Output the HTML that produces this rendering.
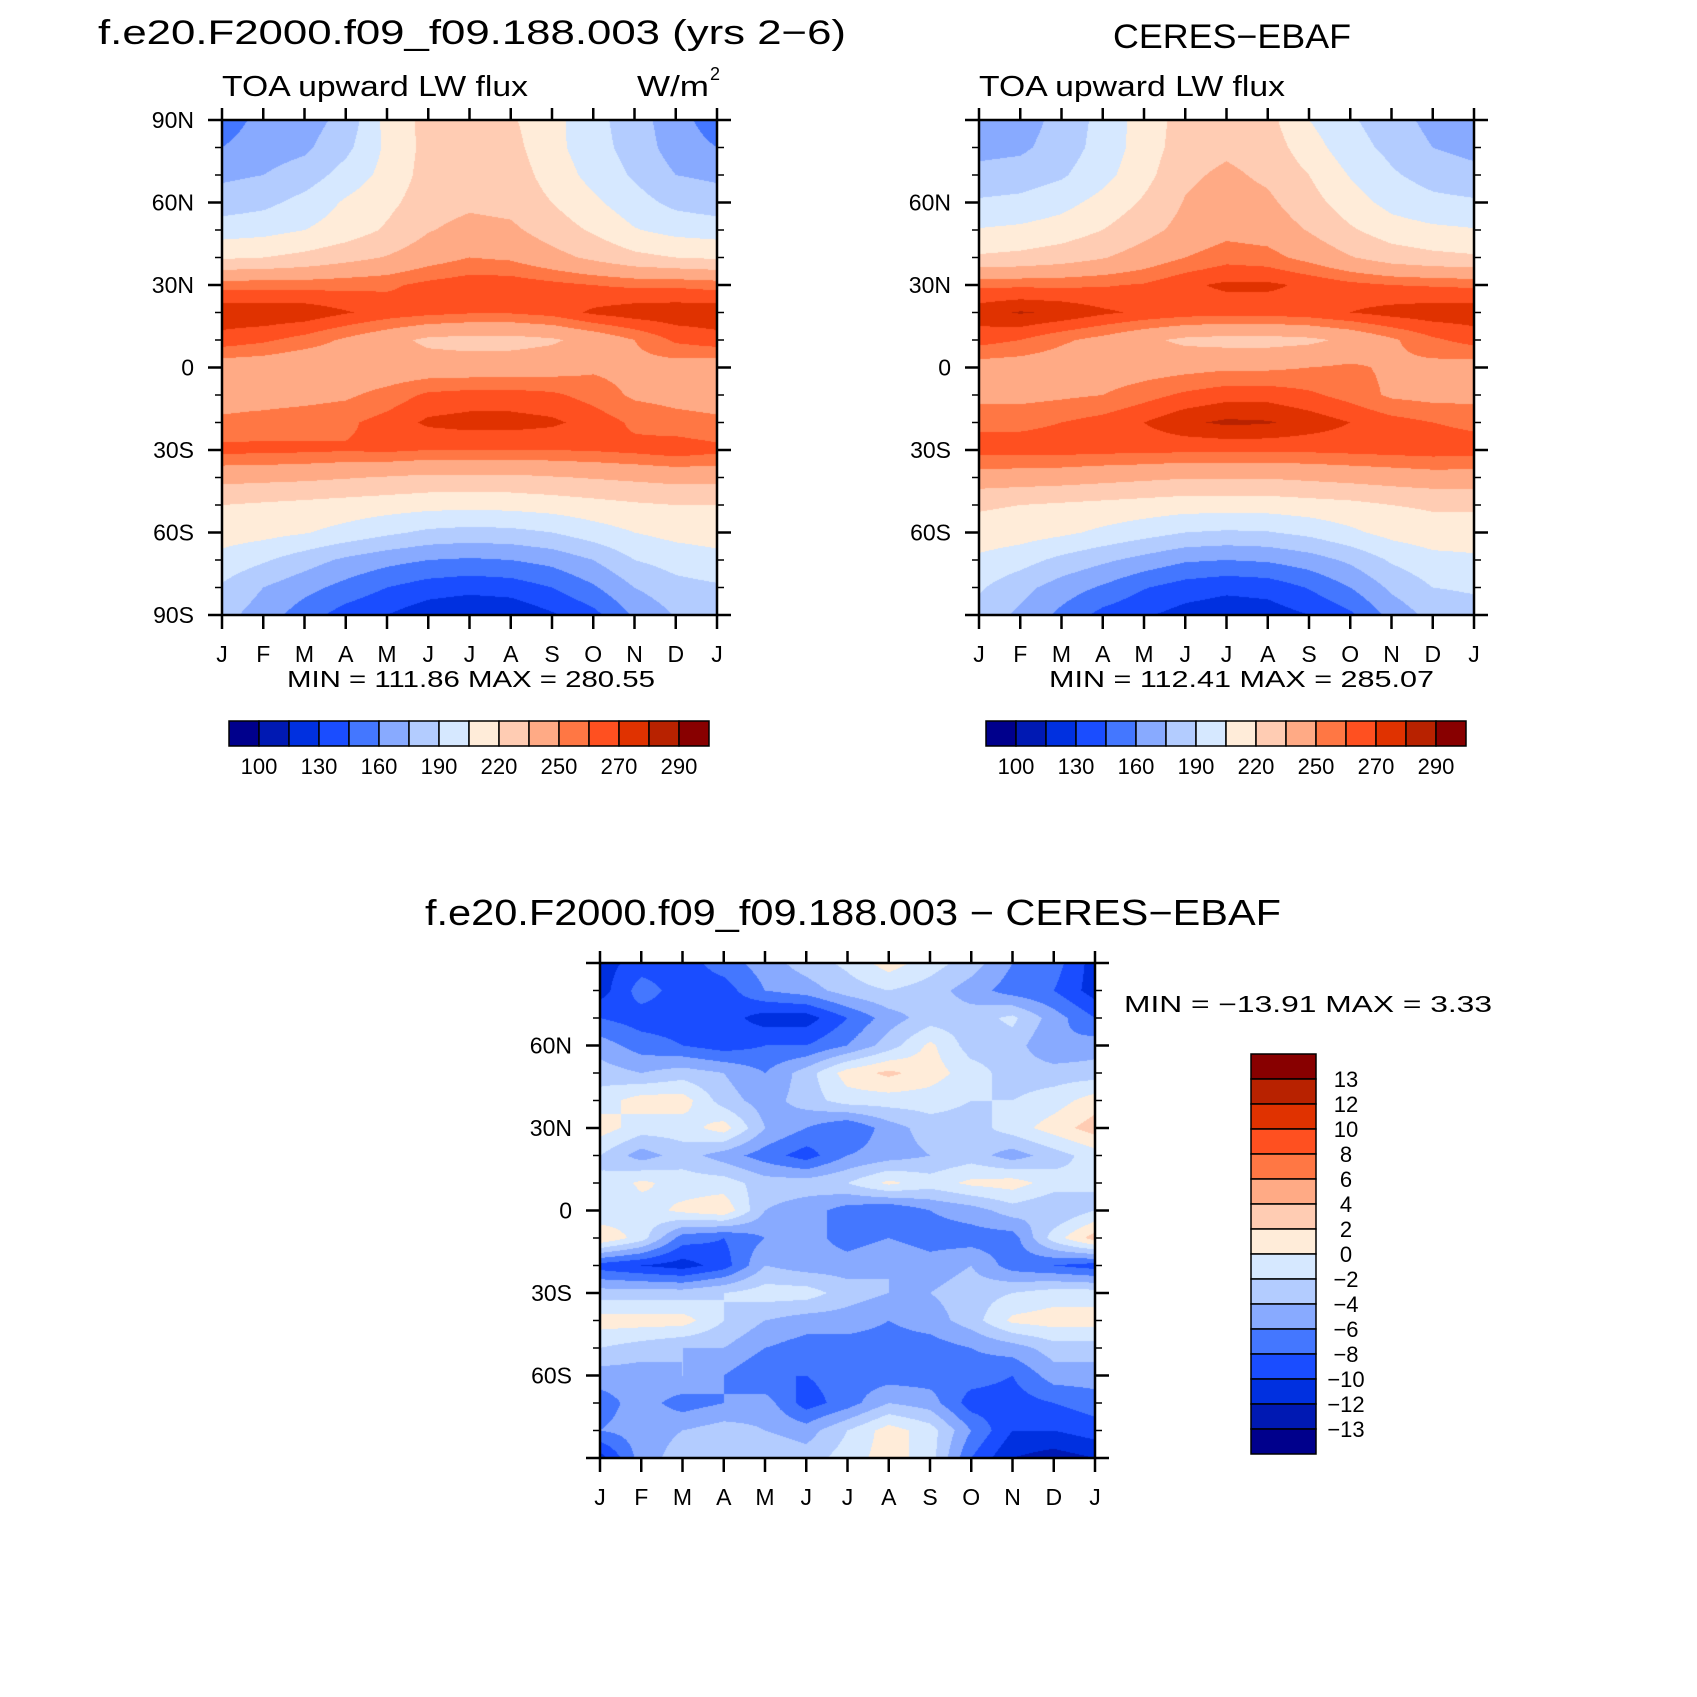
<!DOCTYPE html>
<html><head><meta charset="utf-8"><style>
html,body{margin:0;padding:0;background:#fff;}
#wrap{position:relative;width:1697px;height:1697px;overflow:hidden;}
canvas{position:absolute;}
svg{position:absolute;left:0;top:0;}
text{font-family:"Liberation Sans",sans-serif;fill:#000;}
</style></head><body>
<div id="wrap">
<canvas id="c1"></canvas>
<canvas id="c2"></canvas>
<canvas id="c3"></canvas>
<svg id="svg" width="1697" height="1697"></svg>
</div>
<script>
// ---- data ----
const months = ["J","F","M","A","M","J","J","A","S","O","N","D","J"];
const lats = [90,80,70,60,50,40,30,20,10,0,-10,-20,-30,-40,-50,-60,-70,-80,-90];
const latTickLabels1 = ["90N","60N","30N","0","30S","60S","90S"];
const latTickLabels2 = ["","60N","30N","0","30S","60S",""];
const fluxLevels = [100,115,130,145,160,175,190,205,220,235,250,260,270,280,290];
const fluxLabels = ["100","130","160","190","220","250","270","290"];
const diffLevels = [-13,-12,-10,-8,-6,-4,-2,0,2,4,6,8,10,12,13];
const diffLabels = ["13","12","10","8","6","4","2","0","−2","−4","−6","−8","−10","−12","−13"];
const colors = ["#00008c","#0019b3","#0030e0","#1a4dff","#4477ff","#88aaff","#b3ccff","#d6e8ff","#ffecd9","#ffccb3","#ffaa85","#ff7744","#ff5020","#e03200","#b82200","#880000"];
const model = [
[152,165,168,180,210,225,228,222,210,195,182,166,152],
[160,168,172,186,208,225,230,225,210,196,184,168,160],
[172,175,182,196,210,226,230,228,214,200,188,175,172],
[182,186,195,207,216,228,232,230,220,208,196,186,182],
[198,200,205,212,222,234,240,238,228,218,206,200,198],
[218,220,224,230,236,244,250,248,240,232,224,220,218],
[256,256,256,257,258,263,266,266,263,260,258,258,256],
[277,278,277,271,266,263,261,261,264,272,276,277,277],
[266,262,256,248,240,232,230,230,233,240,250,262,266],
[242,241,238,240,241,242,242,243,244,248,246,244,242],
[245,245,246,248,254,262,264,264,262,256,248,246,245],
[252,254,256,258,264,272,274,274,272,266,258,254,252],
[263,263,262,261,262,260,260,260,260,261,263,266,263],
[240,239,238,236,234,232,232,232,234,236,238,240,240],
[220,218,216,214,212,210,209,210,212,215,218,220,220],
[212,210,206,200,193,187,185,186,190,198,205,210,212],
[200,192,182,172,165,160,158,160,165,175,190,196,200],
[188,175,165,155,145,138,135,137,145,158,175,185,188],
[180,168,152,138,130,120,116,118,128,140,162,176,180]];
const obs = [
[165,168,180,195,212,226,230,225,205,192,182,170,165],
[170,172,182,196,212,228,232,228,212,196,186,175,170],
[180,182,188,200,215,232,238,232,220,204,192,184,180],
[192,194,200,210,222,236,242,238,226,212,200,194,192],
[206,208,212,220,230,240,246,244,234,222,212,208,206],
[222,224,228,234,242,250,256,254,246,236,228,224,222],
[258,258,258,259,261,268,272,272,268,263,260,259,258],
[276,281,278,272,268,265,264,264,266,270,274,276,276],
[264,260,252,246,238,232,230,230,232,238,248,258,264],
[244,243,242,242,244,246,248,248,250,252,248,246,244],
[246,246,248,250,256,262,266,266,262,256,248,246,246],
[258,258,260,264,270,278,282,281,276,270,264,260,258],
[264,264,264,263,263,262,262,262,262,263,264,265,264],
[244,243,242,240,238,236,236,236,238,240,242,244,244],
[222,220,218,216,214,212,212,212,214,216,220,222,222],
[214,212,208,202,196,190,188,189,194,202,210,214,214],
[202,196,186,178,170,162,160,162,168,178,192,200,202],
[192,180,168,158,146,138,134,136,146,160,178,190,192],
[184,172,156,140,132,124,120,122,130,142,165,180,184]];
const diff = [
[-11,-9,-9,-7,-5,-3,-1.5,1,-1,-3,-6,-7,-11],
[-11,-7,-9,-9,-6,-5,-3,-2,-3,-5,-7,-8,-11],
[-8,-9,-9,-9,-11,-11,-8,-5,-3,-3,-1.5,-5,-8],
[-5,-7,-8,-9,-8,-8,-6,-3,0.5,-3,-3,-6,-5],
[-3,-4,-3,-4,-6,-3,1,2.5,1,-1,-3,-3,-3],
[-1,1,1,-3,-5,-3,-1,-1,-1,-2,-2,-1,1],
[1,-1,-1,1,-4,-6,-8,-5,-3,-3,-1,1,3],
[-2,-5,-3,-5,-7,-9,-6,-5,-4,-3,-5,-3,-1],
[-2,0.5,-1,-1,-3,-3,-2,0.5,-1,0.5,1,-1,-2],
[-2,-1,0.5,1.5,-4,-5,-7,-8,-6,-5,-3,-4,-2],
[2,-1,-7,-8,-6,-5,-7,-6,-7,-7,-7,-1,3],
[-9,-10,-11,-9,-4,-5,-5,-4,-5,-4,-7,-8,-9],
[-3,-3,-3,-2,-1,-1,-3,-4,-4,-3,-2,-1,-1],
[1,1,1,-2,-4,-5,-5,-6,-5,-3,0.5,1,1],
[-2,-3,-4,-4,-6,-7,-7,-7,-7,-6,-5,-3,-3],
[-5,-5,-4,-6,-8,-8,-7,-7,-7,-7,-8,-5,-5],
[-7,-5,-7,-6,-5,-9,-7,-4,-5,-9,-9,-8,-7],
[-6,-5,-4,-3,-4,-5,-2,1,-1,-6,-10,-10,-9],
[-11,-5,-3,-2,-2,-3,-1,1,-1,-8,-12,-13,-12]];

// ---- layout ----
const P = [
 {id:"c1",x:222,y:120,w:495,h:495,data:model,lv:fluxLevels,name:"model"},
 {id:"c2",x:979,y:120,w:495,h:495,data:obs,lv:fluxLevels,name:"obs"},
 {id:"c3",x:600,y:963,w:495,h:495,data:diff,lv:diffLevels,name:"diff"}];
const svg=document.getElementById('svg');
const NS="http://www.w3.org/2000/svg";
function el(t,a,txt){const e=document.createElementNS(NS,t);for(const k in a)e.setAttribute(k,a[k]);if(txt!==undefined)e.textContent=txt;svg.appendChild(e);return e;}
function colorIdx(v,lv){let i=0;while(i<lv.length&&v>=lv[i])i++;return i;}
function sample(d,fx,fy){
 const i=Math.min(Math.floor(fy),d.length-2), j=Math.min(Math.floor(fx),d[0].length-2);
 const ty=fy-i, tx=fx-j;
 return d[i][j]*(1-tx)*(1-ty)+d[i][j+1]*tx*(1-ty)+d[i+1][j]*(1-tx)*ty+d[i+1][j+1]*tx*ty;}
P.forEach(p=>{
 const c=document.getElementById(p.id);
 c.width=p.w;c.height=p.h;c.style.left=p.x+'px';c.style.top=p.y+'px';
 const ctx=c.getContext('2d');
 const img=ctx.createImageData(p.w,p.h);
 const rgb=colors.map(h=>[parseInt(h.substr(1,2),16),parseInt(h.substr(3,2),16),parseInt(h.substr(5,2),16)]);
 for(let y=0;y<p.h;y++){const fy=(y+0.5)/p.h*(lats.length-1);
  for(let x=0;x<p.w;x++){const fx=(x+0.5)/p.w*(months.length-1);
   const k=colorIdx(sample(p.data,fx,fy),p.lv);const o=(y*p.w+x)*4;
   img.data[o]=rgb[k][0];img.data[o+1]=rgb[k][1];img.data[o+2]=rgb[k][2];img.data[o+3]=255;}}
 ctx.putImageData(img,0,0);
});
// axes
P.forEach((p,pi)=>{
 const r=el('rect',{x:p.x,y:p.y,width:p.w,height:p.h,fill:'none',stroke:'#000','stroke-width':2.5});
 
 
 for(let m=0;m<months.length;m++){
  const x=p.x+m*p.w/(months.length-1);
  el('line',{x1:x,y1:p.y,x2:x,y2:p.y-12,stroke:'#000','stroke-width':2.5});
  el('line',{x1:x,y1:p.y+p.h,x2:x,y2:p.y+p.h+14,stroke:'#000','stroke-width':2.5});
  const t=el('text',{x:x,y:p.y+p.h+47,'font-size':23,'text-anchor':'middle'},months[m]);
  
  
 }
 for(let l=0;l<=18;l++){
  const y=p.y+l*p.h/18, maj=(l%3===0), len=maj?14:7;
  el('line',{x1:p.x,y1:y,x2:p.x-len,y2:y,stroke:'#000','stroke-width':maj?2.5:1.5});
  el('line',{x1:p.x+p.w,y1:y,x2:p.x+p.w+len,y2:y,stroke:'#000','stroke-width':maj?2.5:1.5});
  if(maj){const lab=(pi===0?latTickLabels1:latTickLabels2)[l/3];
   if(lab){const t=el('text',{x:p.x-28,y:y+8,'font-size':23,'text-anchor':'end'},lab);
    
    }}
 }
});
// horizontal colorbars
[229,986].forEach((x0,ci)=>{
 for(let k=0;k<16;k++){const b=el('rect',{x:x0+k*30,y:721,width:30,height:25,fill:colors[k],stroke:'#000','stroke-width':1.5});
  
  }
 fluxLabels.forEach((s,i)=>{const t=el('text',{x:x0+(2*i+1)*30,y:774,'font-size':22,'text-anchor':'middle'},s);
  
  });
});
// vertical colorbar
for(let k=0;k<16;k++){const b=el('rect',{x:1251,y:1054+k*25,width:65,height:25,fill:colors[15-k],stroke:'#000','stroke-width':1.5});
 
 }
diffLabels.forEach((s,i)=>{const t=el('text',{x:1346,y:1054+(i+1)*25+8,'font-size':22,'text-anchor':'middle'},s);
 
 });
</script>
<script>
(function(){
const NS="http://www.w3.org/2000/svg",svg=document.getElementById('svg');
function T(x,y,fs,s,name,opt){const e=document.createElementNS(NS,'text');e.setAttribute('x',x);e.setAttribute('y',y);e.setAttribute('font-size',fs);
 if(opt&&opt.len){e.setAttribute('textLength',opt.len);e.setAttribute('lengthAdjust','spacingAndGlyphs');}
 if(opt&&opt.anchor)e.setAttribute('text-anchor',opt.anchor);
 e.textContent=s;svg.appendChild(e);return e;}
let t;
t=T(98,44,34,"f.e20.F2000.f09_f09.188.003 (yrs 2−6)","",{len:748});

t=T(1113,48,34,"CERES−EBAF","",{len:238});

t=T(425,925,36,"f.e20.F2000.f09_f09.188.003 − CERES−EBAF","",{len:856});

t=T(222,96,29,"TOA upward LW flux","",{len:306});

t=T(979,96,29,"TOA upward LW flux","",{len:306});

t=T(637,96,29,"W/m","",{len:72});

t=T(710,80,18,"2","");

t=T(287,687,23,"MIN = 111.86 MAX = 280.55","",{len:368});

t=T(1049,687,23,"MIN = 112.41 MAX = 285.07","",{len:385});

t=T(1124,1012,23,"MIN = −13.91 MAX =    3.33","",{len:368});

})();
</script>
</body></html>
